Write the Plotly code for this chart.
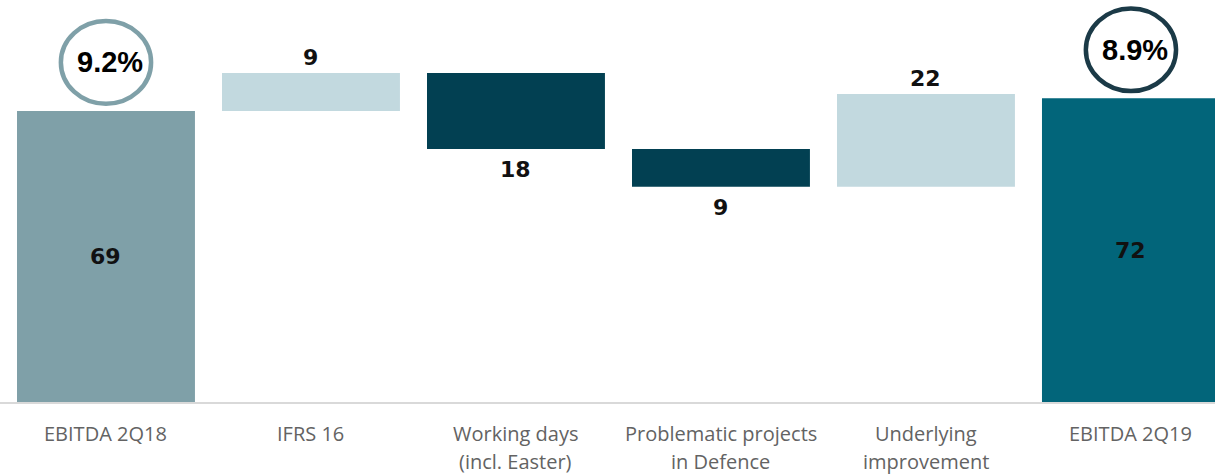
import plotly.graph_objects as go

# EBITDA bridge 2Q18 -> 2Q19 (MEUR)
categories = [
    "EBITDA 2Q18",
    "IFRS 16",
    "Working days<br>(incl. Easter)",
    "Problematic projects<br>in Defence",
    "Underlying<br>improvement",
    "EBITDA 2Q19",
]
values = [69, 9, -18, -9, 22, 72]
kinds = ["total", "delta", "delta", "delta", "delta", "total"]
margin_labels = ["9.2%", None, None, None, None, "8.9%"]

# colours
bar_colors = ["#7fa0a8", "#c2d9df", "#024052", "#024052", "#c2d9df", "#02657a"]
ring_colors = {0: "#7fa0a8", 5: "#1b3a47"}
label_font = dict(family="DejaVu Sans", size=22, color="#111111")
tick_font = dict(family="Open Sans", size=20, color="#636363")

# floating bar geometry of the waterfall
bases, heights = [], []
running = 0
for v, k in zip(values, kinds):
    if k == "total":
        bases.append(0)
        heights.append(v)
        running = v
    else:
        bases.append(running)
        heights.append(v)
        running += v

idx = list(range(len(categories)))

fig = go.Figure(
    go.Bar(
        x=idx,
        y=heights,
        base=bases,
        marker=dict(color=bar_colors, line=dict(width=0)),
        width=0.868,
        hoverinfo="skip",
    )
)

annotations = []
shapes = []

# value labels
for i, (b, h, k) in enumerate(zip(bases, heights, kinds)):
    if k == "total":
        annotations.append(dict(x=i, y=b + h / 2, text=f"<b>{h}</b>", showarrow=False,
                                font=label_font, yanchor="middle"))
    elif h > 0:
        annotations.append(dict(x=i, y=b + h, text=f"<b>{abs(h)}</b>", showarrow=False,
                                font=label_font, yanchor="bottom", yshift=1))
    else:
        annotations.append(dict(x=i, y=b + h, text=f"<b>{abs(h)}</b>", showarrow=False,
                                font=label_font, yanchor="top", yshift=-6))

# EBITDA margin rings above the total bars
for i, m in enumerate(margin_labels):
    if m is None:
        continue
    cy = values[i] + 11.5
    shapes.append(dict(type="circle", xref="x", yref="y",
                       x0=i - 0.22, x1=i + 0.22, y0=cy - 9.8, y1=cy + 9.8,
                       line=dict(color=ring_colors[i], width=4.5)))
    annotations.append(dict(x=i + 0.02, y=cy, text=f"<b>{m}</b>", showarrow=False,
                            font=dict(family="Liberation Sans", size=29, color="#000000"),
                            yanchor="middle"))

# category labels below the axis
for i, c in enumerate(categories):
    for j, line in enumerate(c.split("<br>")):
        annotations.append(dict(x=i, y=0, xref="x", yref="paper", text=line,
                                showarrow=False, font=tick_font, yanchor="middle",
                                yshift=-31 - 28 * j))

fig.update_layout(
    width=1215,
    height=475,
    margin=dict(l=0, r=0, t=0, b=73),
    paper_bgcolor="white",
    plot_bgcolor="white",
    showlegend=False,
    annotations=annotations,
    shapes=shapes,
    xaxis=dict(range=[-0.517, 5.41], showticklabels=False, ticks="",
               showgrid=False, zeroline=False, showline=True,
               linecolor="#d9d9d9", linewidth=2, fixedrange=True),
    yaxis=dict(range=[0, 95.3], visible=False, showgrid=False, zeroline=False,
               fixedrange=True),
)

fig.write_html("out.html")
